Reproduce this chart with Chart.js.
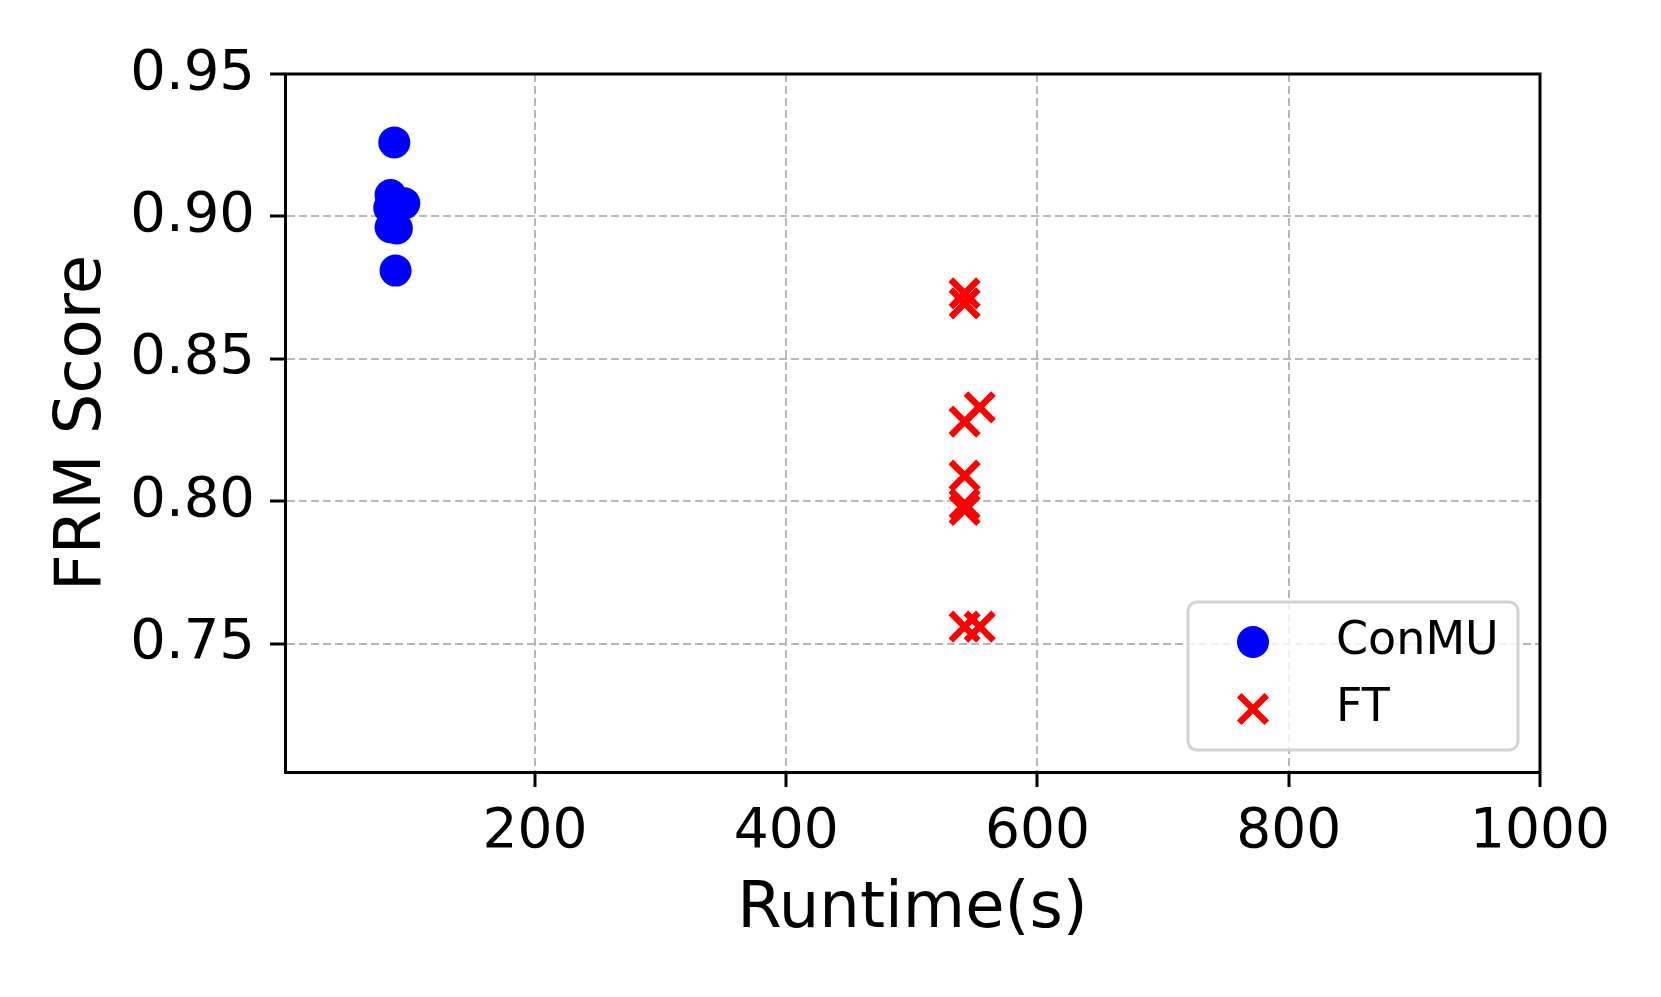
<!DOCTYPE html>
<html>
<head>
<meta charset="utf-8">
<script src="https://cdn.jsdelivr.net/npm/chart.js@4"></script>
<style>
  html, body { margin: 0; padding: 0; background: #fff; }
  #chart { display: block; }
</style>
</head>
<body>
<canvas id="chart" width="1661" height="997"></canvas>
<script>
// values
const conmuRuntime = [88, 85, 96, 84, 85, 90, 89];
const conmuScore   = [0.926, 0.9075, 0.9046, 0.903, 0.8962, 0.8958, 0.881];
const ftRuntime    = [542, 542, 554, 542, 542, 542, 542, 542, 554];
const ftScore      = [0.873, 0.8695, 0.833, 0.828, 0.809, 0.799, 0.797, 0.756, 0.756];
const xTicks = [200, 400, 600, 800, 1000];
const yTicks = [0.75, 0.80, 0.85, 0.90, 0.95];

const FONT = 'DejaVu Sans';

// matplotlib style box: top and right spines
const framePlugin = {
  id: 'frame',
  afterDatasetsDraw(chart) {
    const { ctx, chartArea: a } = chart;
    ctx.save();
    ctx.strokeStyle = '#000';
    ctx.lineWidth = 3;
    ctx.beginPath();
    ctx.moveTo(a.left - 1.5, a.top);
    ctx.lineTo(a.right, a.top);
    ctx.lineTo(a.right, a.bottom + 1.5);
    ctx.stroke();
    ctx.restore();
  }
};

// legend inside the plot, lower right
const legendPlugin = {
  id: 'innerLegend',
  afterDraw(chart) {
    const { ctx, chartArea: a } = chart;
    const w = 330, h = 148, r = 9;
    const x0 = a.right - 22 - w, y0 = a.bottom - 22 - h;
    ctx.save();
    ctx.beginPath();
    ctx.moveTo(x0 + r, y0);
    ctx.arcTo(x0 + w, y0, x0 + w, y0 + h, r);
    ctx.arcTo(x0 + w, y0 + h, x0, y0 + h, r);
    ctx.arcTo(x0, y0 + h, x0, y0, r);
    ctx.arcTo(x0, y0, x0 + w, y0, r);
    ctx.closePath();
    ctx.fillStyle = 'rgba(255,255,255,0.8)';
    ctx.fill();
    ctx.strokeStyle = 'rgba(204,204,204,0.85)';
    ctx.lineWidth = 3;
    ctx.stroke();

    chart.data.datasets.forEach((ds, i) => {
      const my = y0 + 40 + i * 67;
      ctx.fillStyle = ds.pointBackgroundColor;
      ctx.strokeStyle = ds.pointBorderColor;
      ctx.lineWidth = ds.pointBorderWidth;
      Chart.helpers.drawPoint(ctx, {
        pointStyle: ds.pointStyle,
        radius: ds.pointRadius,
        borderWidth: ds.pointBorderWidth,
        rotation: 0
      }, x0 + 65, my);
      ctx.fillStyle = '#000';
      ctx.font = '46px "' + FONT + '"';
      ctx.textAlign = 'left';
      ctx.textBaseline = 'middle';
      ctx.fillText(ds.label, x0 + 148, my);
    });
    ctx.restore();
  }
};

const ctx = document.getElementById('chart').getContext('2d');
const chart = new Chart(ctx, {
  type: 'scatter',
  data: {
    datasets: [
      {
        label: 'ConMU',
        data: conmuRuntime.map((x, i) => ({ x: x, y: conmuScore[i] })),
        pointStyle: 'circle',
        pointRadius: 16,
        pointBackgroundColor: '#0000ff',
        pointBorderColor: '#0000ff',
        pointBorderWidth: 0
      },
      {
        label: 'FT',
        data: ftRuntime.map((x, i) => ({ x: x, y: ftScore[i] })),
        pointStyle: 'crossRot',
        pointRadius: 19.5,
        pointBackgroundColor: '#ff0000',
        pointBorderColor: '#ff0000',
        pointBorderWidth: 6.5
      }
    ]
  },
  options: {
    responsive: false,
    animation: false,
    events: [],
    layout: { padding: { left: 0, top: 74, right: 121, bottom: 0 } },
    plugins: {
      legend: { display: false },
      tooltip: { enabled: false }
    },
    scales: {
      x: {
        type: 'linear',
        min: 1,
        max: 1000,
        afterBuildTicks: s => { s.ticks = xTicks.map(v => ({ value: v })); },
        afterFit: s => { s.height = 225; },
        ticks: {
          color: '#000',
          font: { family: FONT, size: 55 },
          padding: 13,
          maxRotation: 0,
          autoSkip: false,
          callback: v => String(v)
        },
        grid: {
          color: '#b8b8b8',
          lineWidth: 2,
          tickColor: '#000',
          tickWidth: 3,
          tickLength: 15
        },
        border: { display: true, color: '#000', width: 3, dash: [8, 4] },
        title: {
          display: true,
          text: 'Runtime(s)',
          color: '#000',
          font: { family: FONT, size: 64 },
          padding: { top: 0, bottom: 48 }
        }
      },
      y: {
        type: 'linear',
        min: 0.705,
        max: 0.95,
        afterBuildTicks: s => { s.ticks = yTicks.map(v => ({ value: v })); },
        afterFit: s => { s.width = 285; },
        ticks: {
          color: '#000',
          font: { family: FONT, size: 56 },
          padding: 15,
          callback: v => Number(v).toFixed(2)
        },
        grid: {
          color: '#b8b8b8',
          lineWidth: 2,
          tickColor: '#000',
          tickWidth: 3,
          tickLength: 15
        },
        border: { display: true, color: '#000', width: 3, dash: [8, 4] },
        title: {
          display: true,
          text: 'FRM Score',
          color: '#000',
          font: { family: FONT, size: 64 },
          padding: { top: 45, bottom: 0 }
        }
      }
    }
  },
  plugins: [framePlugin, legendPlugin]
});
</script>
</body>
</html>
